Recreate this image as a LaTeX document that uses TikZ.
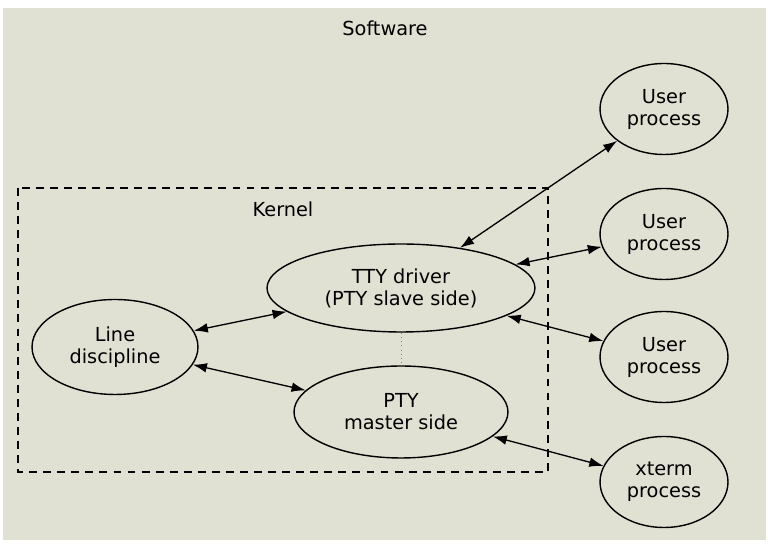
\documentclass[tikz,border=0pt]{standalone}
\usepackage{fontspec}
\setmainfont{DejaVu Sans}
\usetikzlibrary{arrows.meta, shapes}

\definecolor{softbg}{RGB}{225,225,211}

\begin{document}
\begin{tikzpicture}[x=0.02cm, y=-0.02cm,
    every node/.style={font=\fontsize{11}{12.5}\selectfont, align=center},
    proc/.style={ellipse, draw, line width=0.8pt, inner sep=0pt},
    link/.style={line width=0.75pt, {Latex[length=8pt,width=5.5pt]}-{Latex[length=8pt,width=5.5pt]}}]
\useasboundingbox (0,0) rectangle (768,546);
\fill[softbg] (3,8) rectangle (766,540);

\node[] (SW) at (385,28) {Software};

\draw[line width=0.7pt, dash pattern=on 4.5pt off 3.5pt] (18,188) rectangle (548,472);
\node[] (K) at (283,209) {Kernel};

\node[proc, minimum width=3.32cm, minimum height=1.9cm]  (LD)  at (115,347) {Line\\discipline};
\node[proc, minimum width=5.36cm, minimum height=1.76cm] (TTY) at (401,288) {TTY driver\\(PTY slave side)};
\node[proc, minimum width=4.28cm, minimum height=1.84cm] (PTY) at (401,412) {PTY\\master side};

\node[proc, minimum width=2.56cm, minimum height=1.82cm] (U1) at (664,109) {User\\process};
\node[proc, minimum width=2.56cm, minimum height=1.82cm] (U2) at (664,234) {User\\process};
\node[proc, minimum width=2.56cm, minimum height=1.82cm] (U3) at (664,357) {User\\process};
\node[proc, minimum width=2.56cm, minimum height=1.82cm] (X)  at (664,482) {xterm\\process};

\draw[dotted, gray] (TTY) -- (PTY);

\draw[link] (LD) -- (TTY);
\draw[link] (LD) -- (PTY);
\draw[link] (TTY) -- (U1);
\draw[link] (TTY) -- (U2);
\draw[link] (TTY) -- (U3);
\draw[link] (PTY) -- (X);
\end{tikzpicture}
\end{document}
